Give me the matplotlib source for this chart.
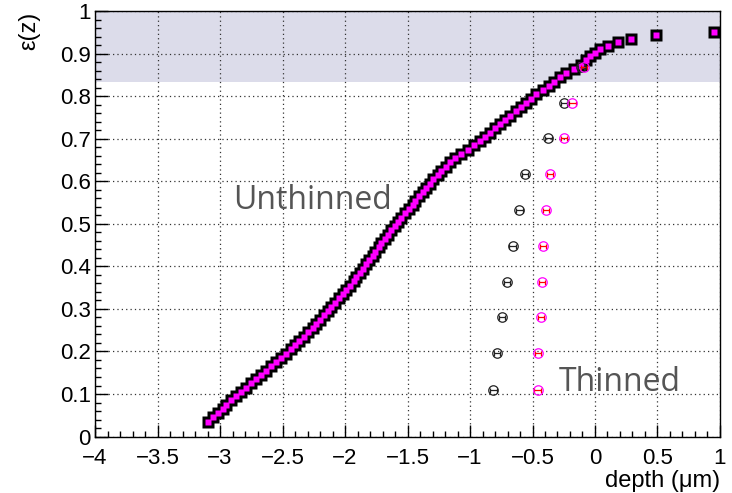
import matplotlib
matplotlib.use("Agg")
import matplotlib.pyplot as plt
import matplotlib.transforms as mtransforms
from matplotlib.ticker import MultipleLocator, FuncFormatter

# efficiency vs depth, unthinned sensor (dense scan)
depth_unthinned = [
    -3.10, -3.06, -3.02, -2.98, -2.95, -2.91, -2.87, -2.83, -2.79, -2.75,
    -2.71, -2.67, -2.63, -2.59, -2.55, -2.51, -2.47, -2.43, -2.40, -2.37,
    -2.33, -2.30, -2.26, -2.23, -2.20, -2.17, -2.14, -2.11, -2.08, -2.05,
    -2.02, -1.99, -1.96, -1.93, -1.91, -1.88, -1.86, -1.83, -1.81, -1.78,
    -1.76, -1.73, -1.71, -1.68, -1.66, -1.63, -1.60, -1.58, -1.55, -1.52,
    -1.49, -1.46, -1.44, -1.41, -1.38, -1.35, -1.32, -1.30, -1.26, -1.23,
    -1.19, -1.16, -1.12, -1.07, -1.02, -0.97, -0.92, -0.88, -0.84, -0.80,
    -0.76, -0.72, -0.68, -0.63, -0.59, -0.55, -0.51, -0.47, -0.42, -0.37,
    -0.33, -0.28, -0.23, -0.17, -0.11, -0.07, -0.04, 0.00, 0.04, 0.107,
    0.187, 0.285, 0.49, 0.955,
]
eff_unthinned = [
    0.035, 0.045, 0.055, 0.065, 0.075, 0.085, 0.095, 0.105, 0.115, 0.125,
    0.135, 0.145, 0.155, 0.165, 0.175, 0.185, 0.195, 0.205, 0.215, 0.225,
    0.235, 0.245, 0.255, 0.265, 0.275, 0.285, 0.295, 0.305, 0.315, 0.325,
    0.335, 0.345, 0.355, 0.365, 0.375, 0.385, 0.395, 0.405, 0.415, 0.425,
    0.435, 0.445, 0.455, 0.465, 0.475, 0.485, 0.495, 0.505, 0.515, 0.525,
    0.535, 0.545, 0.555, 0.565, 0.575, 0.585, 0.595, 0.605, 0.615, 0.625,
    0.635, 0.645, 0.655, 0.665, 0.675, 0.685, 0.695, 0.705, 0.715, 0.725,
    0.735, 0.745, 0.755, 0.765, 0.775, 0.785, 0.795, 0.805, 0.815, 0.825,
    0.835, 0.845, 0.855, 0.865, 0.875, 0.885, 0.895, 0.903, 0.911, 0.919,
    0.928, 0.935, 0.944, 0.951,
]

# thinned sensor, two samples
eff_thinned = [0.109, 0.196, 0.280, 0.364, 0.448, 0.533, 0.618, 0.702, 0.785, 0.870]
depth_thinned_a = [-0.813, -0.786, -0.746, -0.706, -0.660, -0.605, -0.560, -0.373, -0.248, -0.110]
depth_thinned_b = [-0.460, -0.458, -0.434, -0.426, -0.418, -0.392, -0.360, -0.248, -0.180, -0.090]
depth_err = 0.025

fig = plt.figure(figsize=(7.32, 4.93), dpi=100)
ax = fig.add_axes([0.1298, 0.1146, 0.8538, 0.8621])

ax.axhspan(0.833, 1.0, color="#dcdcea", zorder=0, lw=0)

ax.grid(True, which="major", color="#333333", linestyle=(0, (1, 2.5)), lw=0.9, zorder=1)

# unthinned: black square underneath, magenta core on top
ax.plot(depth_unthinned, eff_unthinned, "s", ms=8.8, color="black", mec="none", zorder=3)
ax.plot(depth_unthinned, eff_unthinned, "s", ms=4.4, color="#ff00ff", mec="none", zorder=4)

ax.errorbar(depth_thinned_a, eff_thinned, xerr=depth_err, fmt="o", ms=6.8,
            mfc="none", mec="#222222", mew=0.9, ecolor="#222222", elinewidth=0.9,
            capsize=1.8, capthick=0.9, zorder=5)
ax.errorbar(depth_thinned_b, eff_thinned, xerr=depth_err, fmt="o", ms=6.8,
            mfc="none", mec="#ff00ff", mew=0.9, ecolor="red", elinewidth=0.9,
            capsize=1.8, capthick=0.9, zorder=5)

ax.set_xlim(-4, 1)
ax.set_ylim(0, 1)

ax.xaxis.set_major_locator(MultipleLocator(0.5))
ax.xaxis.set_minor_locator(MultipleLocator(0.1))
ax.yaxis.set_major_locator(MultipleLocator(0.1))
ax.yaxis.set_minor_locator(MultipleLocator(0.02))

fmt = FuncFormatter(lambda v, p: ("%g" % round(v, 3)).replace("-", "\u2212"))
ax.xaxis.set_major_formatter(fmt)
ax.yaxis.set_major_formatter(fmt)

ax.tick_params(which="both", direction="in", top=False, right=False,
               labelsize=16, width=1)
ax.tick_params(which="major", length=9)
ax.tick_params(which="minor", length=4.5)
ax.tick_params(axis="x", pad=8)
ax.tick_params(axis="y", pad=3)
for lab in ax.get_xticklabels() + ax.get_yticklabels():
    lab.set_family("Liberation Sans")

# lift the "0" on the y axis a little so it clears the x labels
ylabs = ax.get_yticklabels()
ylabs[0].set_transform(ylabs[0].get_transform() +
                       mtransforms.ScaledTranslation(0, 3 / 72, fig.dpi_scale_trans))

for s in ax.spines.values():
    s.set_linewidth(1)

ax.set_xlabel("depth (\u03bcm)", loc="right", fontsize=17, family="Liberation Sans", labelpad=1)
ax.set_ylabel("\u03b5(z)", loc="top", fontsize=17, family="Liberation Sans", labelpad=14)

ax.text(-2.26, 0.556, "Unthinned", fontsize=23, color="#555555", family="Open Sans",
        ha="center", va="center", zorder=6)
ax.text(-0.29, 0.126, "Thinned", fontsize=23, color="#555555", family="Open Sans",
        ha="left", va="center", zorder=6)

fig.savefig("out.png", dpi=100)
